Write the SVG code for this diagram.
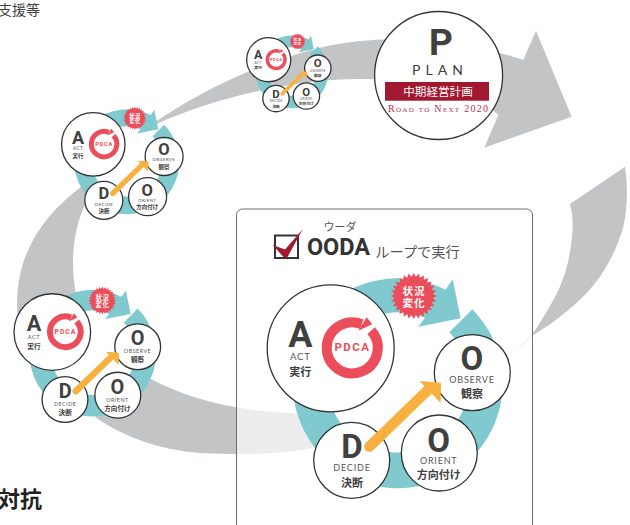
<svg xmlns="http://www.w3.org/2000/svg" xmlns:xlink="http://www.w3.org/1999/xlink" width="630" height="525" viewBox="0 0 630 525">
<style>
text{font-family:"Roboto","Noto Sans CJK JP",sans-serif;text-anchor:middle;fill:#404040}
.jp{font-family:"Noto Sans CJK JP",sans-serif}
.band{fill:#c3c4c6}
.ring{fill:#7fc9cf}
.node{fill:#fff;stroke:#333;stroke-width:1.3;vector-effect:non-scaling-stroke}
.big{font-size:36px;font-weight:700}
.mid{font-size:33px;font-weight:700}
.en{font-family:"Lato",sans-serif;font-size:9px;letter-spacing:.8px;fill:#555}
.ja{font-family:"Noto Sans CJK JP",sans-serif;font-size:11px;font-weight:700}
.red{fill:#ec4d5b}
.pdca{font-size:11.5px;font-weight:700;letter-spacing:1.5px;fill:#ec4d5b}
.pring{fill:none;stroke:#ec4d5b;stroke-width:10}
.burst{font-family:"Noto Sans CJK JP",sans-serif;font-size:10.5px;font-weight:700;letter-spacing:1px;fill:#fff}
.go{fill:none;stroke:#f8b03f;stroke-width:10.5;stroke-linecap:round}
.goh{fill:#f8b03f}
</style>
<defs>
<g id="star">
<circle r="19.5" class="red"/>
<path id="rh" class="red" d="M0-23 12.25 0 0 23-12.25 0Z"/>
<use xlink:href="#rh" href="#rh" transform="rotate(12.86)"/>
<use xlink:href="#rh" href="#rh" transform="rotate(25.71)"/>
<use xlink:href="#rh" href="#rh" transform="rotate(38.57)"/>
<use xlink:href="#rh" href="#rh" transform="rotate(51.43)"/>
<use xlink:href="#rh" href="#rh" transform="rotate(64.29)"/>
<use xlink:href="#rh" href="#rh" transform="rotate(77.14)"/>
<use xlink:href="#rh" href="#rh" transform="rotate(90)"/>
<use xlink:href="#rh" href="#rh" transform="rotate(102.86)"/>
<use xlink:href="#rh" href="#rh" transform="rotate(115.71)"/>
<use xlink:href="#rh" href="#rh" transform="rotate(128.57)"/>
<use xlink:href="#rh" href="#rh" transform="rotate(141.43)"/>
<use xlink:href="#rh" href="#rh" transform="rotate(154.29)"/>
<use xlink:href="#rh" href="#rh" transform="rotate(167.14)"/>
</g>
<g id="rings">
<path class="ring" d="M472.3,309.3A105,105 0 1 1 296.3,356L329.1,365A71,71 0 1 0 449.3,332.3Z"/>
<path class="ring" d="M330.2,302.9A105,105 0 0 1 445.5,289.8L452.7,279.3 460.7,318.3 418.3,326.7 425,317.8A71,71 0 0 0 352.1,329Z"/>
<use xlink:href="#star" href="#star" x="413.7" y="296"/>
</g>
<g id="pd">
<path class="pring" d="M371.1,330.7A25.5,25.5 0 1 1 361.75,324.2"/>
<path class="red" d="M366.7,317.3 372.3,324.2 358.3,330.7Z"/>
</g>
</defs>
<g id="connectors">
<path class="band" d="M155,122C195,95 250,65 323,47C375,35 450,35 523.3,60L536,30.7 571.7,116.7 484.3,147.7 498.3,115C470,85 400,79 360,79C300,79 220,95 155.4,124.5Z"/>
<path class="band" d="M86,183C35,220 12,265 18,320L60,340 78,305C70,270 70,230 90,195Z"/>
<path class="band" d="M149,378C190,400 240,412 298,413L320,447C280,455 240,455 200,453C160,450 125,438 95,417L120,395Z"/>
<path class="band" d="M625,166.7L570,204C573,215 573,225 572.3,233C571,248 569,260 565,273C561,285 557,294 551.7,303C546,313 539,325 531.7,335L508.3,358.3 533.3,335C545,328 552,323 560,316.7C570,309 578,302 586.7,293C596,283 604,272 610,260C616,249 620,238 623.3,226.7C626,215 629,195 625,166.7Z"/>
</g>
<text class="jp" x="-2" y="15" style="text-anchor:start;font-size:14px">支援等</text>
<text class="jp" x="-2" y="507" style="text-anchor:start;font-size:22px;font-weight:700;fill:#222">対抗</text>
<rect id="ooda-box" x="236.5" y="209" width="296" height="340" rx="6" fill="#fff" fill-opacity=".7" stroke="#6e6e6e" stroke-width="1"/>
<g id="ooda-title">
<rect x="275" y="235.5" width="23" height="22.5" fill="#fff" stroke="#333" stroke-width="2"/>
<path fill="#a2182f" d="M272.7,245 285,249.5 302.7,229.3 287,258 283.5,257Z"/>
<text class="jp" x="340" y="231" style="font-size:11px;fill:#555">ウーダ</text>
<text x="338.5" y="255" style="font-size:23.5px;font-weight:700;fill:#333">OODA</text>
<text class="jp" x="417.5" y="256.5" style="font-size:14.2px;fill:#555">ループで実行</text>
</g>
<g id="plan">
<circle class="node" cx="438.6" cy="75.5" r="64"/>
<text x="441" y="55" style="font-size:37px;font-weight:700">P</text>
<text x="440" y="75" style="font-family:Lato,sans-serif;font-size:14px;letter-spacing:5px">PLAN</text>
<rect x="385" y="82" width="104" height="18.7" fill="#a2182f"/>
<text class="jp" x="438" y="96" style="font-size:11.6px;fill:#fff">中期経営計画</text>
<text x="438" y="111.5" textLength="100" style="font-family:'Liberation Serif',serif;font-size:10px;font-variant:small-caps;fill:#b5304c">Road to Next 2020</text>
</g>
<g id="ooda-main">
<use xlink:href="#rings" href="#rings"/>
<text class="burst" x="414" y="295">状況</text><text class="burst" x="414" y="306.7">変化</text>
<g id="main-act"><circle class="node" cx="330.7" cy="348.3" r="63.5"/><text class="big" x="300.3" y="347.3">A</text><text class="en" x="300.3" y="360" style="font-size:9.5px">ACT</text><text class="ja" x="300.3" y="376">実行</text><use xlink:href="#pd" href="#pd"/><text class="pdca" x="352.5" y="351">PDCA</text></g>
<g id="main-observe"><circle class="node" cx="472.3" cy="372.7" r="38"/><text class="mid" x="472" y="370">O</text><text class="en" x="472" y="382.7">OBSERVE</text><text class="ja" x="472" y="398">観察</text></g>
<g id="main-orient"><circle class="node" cx="439.3" cy="453" r="38"/><text class="mid" x="438.7" y="451.7">O</text><text class="en" x="438.7" y="464">ORIENT</text><text class="ja" x="438.7" y="478.5">方向付け</text></g>
<g id="main-decide"><circle class="node" cx="351.7" cy="460.3" r="38"/><text class="mid" x="352" y="458">D</text><text class="en" x="352" y="471">DECIDE</text><text class="ja" x="352" y="486.5">決断</text></g>
<path class="go" d="M369.3,446.7L430,388"/><path class="goh" d="M419.5,381 441,382.7 440.7,403Z"/>
</g>
<g id="ooda-1" transform="translate(-147.1 122) scale(.603)">
<use xlink:href="#rings" href="#rings"/>
<text class="burst" x="414" y="295">状況</text><text class="burst" x="414" y="306.7">変化</text>
<circle class="node" cx="330.7" cy="348.3" r="63.5"/><text class="big" x="300.3" y="347.3">A</text><text class="en" x="300.3" y="360" style="font-size:9.5px">ACT</text><text class="ja" x="300.3" y="376">実行</text><use xlink:href="#pd" href="#pd"/><text class="pdca" x="352.5" y="351">PDCA</text>
<circle class="node" cx="472.3" cy="372.7" r="38"/><text class="mid" x="472" y="370">O</text><text class="en" x="472" y="382.7">OBSERVE</text><text class="ja" x="472" y="398">観察</text>
<circle class="node" cx="439.3" cy="453" r="38"/><text class="mid" x="438.7" y="451.7">O</text><text class="en" x="438.7" y="464">ORIENT</text><text class="ja" x="438.7" y="478.5">方向付け</text>
<circle class="node" cx="351.7" cy="460.3" r="38"/><text class="mid" x="352" y="458">D</text><text class="en" x="352" y="471">DECIDE</text><text class="ja" x="352" y="486.5">決断</text>
<path class="go" d="M369.3,446.7L430,388"/><path class="goh" d="M419.5,381 441,382.7 440.7,403Z"/>
</g>
<g id="ooda-2" transform="translate(-72.05 -29.85) scale(.5)">
<use xlink:href="#rings" href="#rings"/>
<text class="burst" x="414" y="295">状況</text><text class="burst" x="414" y="306.7">変化</text>
<circle class="node" cx="330.7" cy="348.3" r="63.5"/><text class="big" x="300.3" y="347.3">A</text><text class="en" x="300.3" y="360" style="font-size:9.5px">ACT</text><text class="ja" x="300.3" y="376">実行</text><use xlink:href="#pd" href="#pd"/><text class="pdca" x="352.5" y="351">PDCA</text>
<circle class="node" cx="472.3" cy="372.7" r="38"/><text class="mid" x="472" y="370">O</text><text class="en" x="472" y="382.7">OBSERVE</text><text class="ja" x="472" y="398">観察</text>
<circle class="node" cx="439.3" cy="453" r="38"/><text class="mid" x="438.7" y="451.7">O</text><text class="en" x="438.7" y="464">ORIENT</text><text class="ja" x="438.7" y="478.5">方向付け</text>
<circle class="node" cx="351.7" cy="460.3" r="38"/><text class="mid" x="352" y="458">D</text><text class="en" x="352" y="471">DECIDE</text><text class="ja" x="352" y="486.5">決断</text>
<path class="go" d="M369.3,446.7L430,388"/><path class="goh" d="M419.5,381 441,382.7 440.7,403Z"/>
</g>
<g id="ooda-3" transform="translate(153.95 -61.16) scale(.347)">
<use xlink:href="#rings" href="#rings"/>
<text class="burst" x="414" y="295">状況</text><text class="burst" x="414" y="306.7">変化</text>
<circle class="node" cx="330.7" cy="348.3" r="63.5"/><text class="big" x="300.3" y="347.3">A</text><text class="en" x="300.3" y="360" style="font-size:9.5px">ACT</text><text class="ja" x="300.3" y="376">実行</text><use xlink:href="#pd" href="#pd"/><text class="pdca" x="352.5" y="351">PDCA</text>
<circle class="node" cx="472.3" cy="372.7" r="38"/><text class="mid" x="472" y="370">O</text><text class="en" x="472" y="382.7">OBSERVE</text><text class="ja" x="472" y="398">観察</text>
<circle class="node" cx="439.3" cy="453" r="38"/><text class="mid" x="438.7" y="451.7">O</text><text class="en" x="438.7" y="464">ORIENT</text><text class="ja" x="438.7" y="478.5">方向付け</text>
<circle class="node" cx="351.7" cy="460.3" r="38"/><text class="mid" x="352" y="458">D</text><text class="en" x="352" y="471">DECIDE</text><text class="ja" x="352" y="486.5">決断</text>
<path class="go" d="M369.3,446.7L430,388"/><path class="goh" d="M419.5,381 441,382.7 440.7,403Z"/>
</g>
</svg>
